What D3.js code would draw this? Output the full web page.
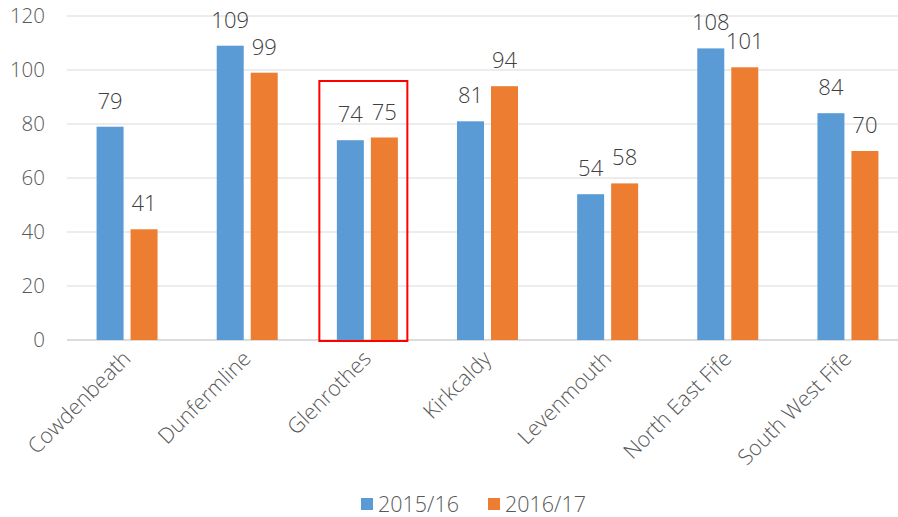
<!DOCTYPE html>
<html><head><meta charset="utf-8">
<script src="https://cdn.jsdelivr.net/npm/d3@7"></script>
<style>body{margin:0;background:#fff}svg{display:block;font-family:"Open Sans",sans-serif;font-weight:300}</style>
</head><body>
<svg id="c" width="898" height="517"></svg>
<script>
const categories=["Cowdenbeath","Dunfermline","Glenrothes","Kirkcaldy","Levenmouth","North East Fife","South West Fife"];
const seriesNames=["2015/16","2016/17"];
const values2015=[79,109,74,81,54,108,84];
const values2016=[41,99,75,94,58,101,70];
const yTicks=[0,20,40,60,80,100,120];
const highlight="Glenrothes";
const colors=["#5B9BD5","#ED7D31"];

const svg=d3.select("#c");
const x=d3.scaleBand().domain(categories).range([67,908]);
const y=d3.scaleLinear().domain([0,120]).range([340,16]);
const barW=27, gap=7;

svg.append("g").selectAll("line").data(yTicks).join("line")
 .attr("x1",67).attr("x2",898).attr("y1",d=>y(d)).attr("y2",d=>y(d))
 .attr("stroke",d=>d===0?"#d0d0d0":"#d9d9d9").attr("stroke-width",d=>d===0?1.5:1);

svg.append("g").selectAll("text").data(yTicks).join("text")
 .attr("x",45).attr("y",d=>y(d)).attr("dy","0.35em").attr("text-anchor","end")
 .attr("font-size",20.5).attr("fill","#595959").text(d=>d);

const series=[values2015,values2016];
series.forEach((vals,si)=>{
 const g=svg.append("g");
 const xo=c=>x(c)+x.bandwidth()/2+(si===0?-(barW+gap/2):gap/2);
 g.selectAll("rect").data(categories).join("rect")
  .attr("x",c=>xo(c)).attr("width",barW)
  .attr("y",(c,i)=>y(vals[i])).attr("height",(c,i)=>y(0)-y(vals[i]))
  .attr("fill",colors[si]);
 g.selectAll("text").data(categories).join("text")
  .attr("x",c=>xo(c)+barW/2).attr("y",(c,i)=>y(vals[i])-18)
  .attr("text-anchor","middle").attr("font-size",22).attr("fill","#404040")
  .text((c,i)=>vals[i]);
});

const hc=x(highlight)+x.bandwidth()/2;
svg.append("rect").attr("x",hc-48).attr("width",88).attr("y",81).attr("height",260)
 .attr("fill","none").attr("stroke","#ff0000").attr("stroke-width",2);

svg.append("g").selectAll("text").data(categories).join("text")
 .attr("transform",c=>`translate(${x(c)+x.bandwidth()/2+5},360) rotate(-45)`)
 .attr("text-anchor","end").attr("font-size",21.5).attr("fill","#595959").text(c=>c);

const leg=[{x:361},{x:488}];
seriesNames.forEach((n,i)=>{
 svg.append("rect").attr("x",leg[i].x).attr("y",498).attr("width",12).attr("height",12).attr("fill",colors[i]);
 svg.append("text").attr("x",leg[i].x+17).attr("y",512).attr("font-size",21.5).attr("fill","#595959").text(n);
});
</script>
</body></html>
